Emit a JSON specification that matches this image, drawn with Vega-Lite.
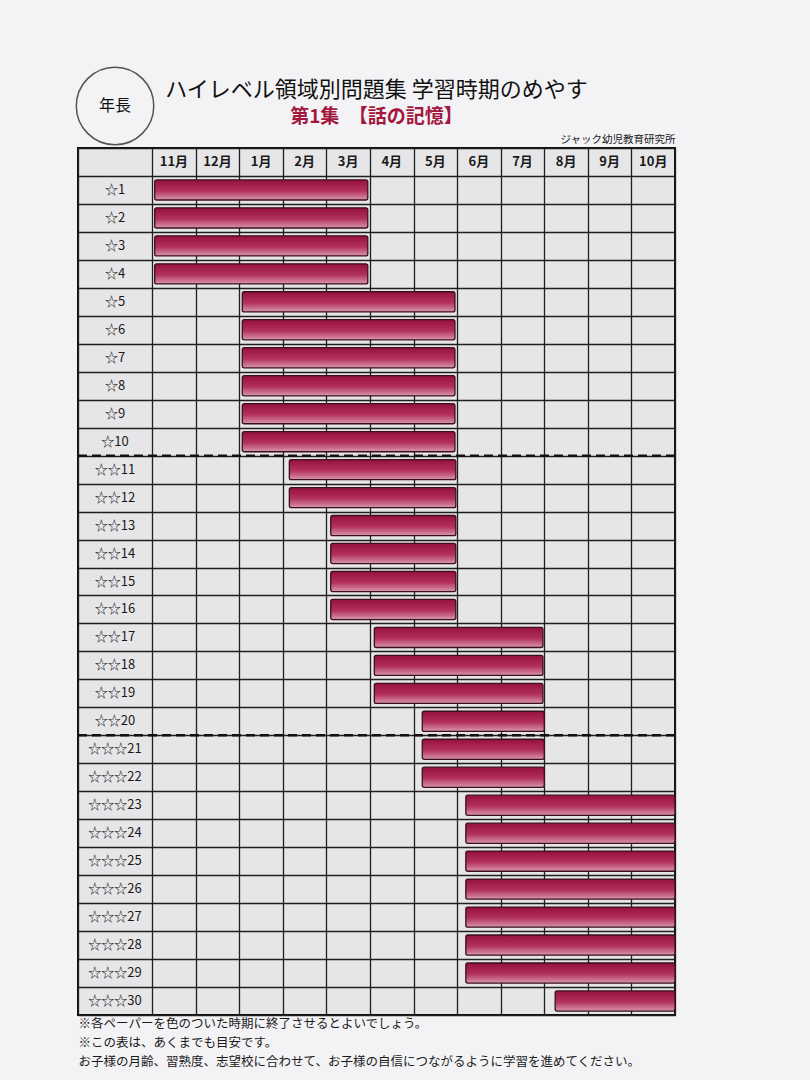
{
  "$schema": "https://vega.github.io/schema/vega-lite/v6.json",
  "autosize": {"type": "none"},
  "width": 597,
  "height": 867,
  "padding": {"left": 78, "top": 148, "right": 135, "bottom": 65},
  "background": "#f3f3f5",
  "config": {
    "font": "Noto Sans CJK JP",
    "view": {"fill": "#e6e6e8", "stroke": "#111111", "strokeWidth": 2},
    "axisY": {"grid": true, "tickBand": "extent", "gridColor": "#1f1f1f", "gridWidth": 1.3, "labels": false, "ticks": false, "domain": false}
  },
  "title": {
    "text": "ハイレベル領域別問題集 学習時期のめやす",
    "subtitle": "第1集　【話の記憶】",
    "anchor": "middle",
    "fontSize": 22,
    "fontWeight": "normal",
    "color": "#111111",
    "subtitleFontSize": 19,
    "subtitleColor": "#a3173f",
    "subtitleFontWeight": "bold",
    "subtitlePadding": 6,
    "offset": -64
  },
  "datasets": {
    "rows": [
      {"label": "☆1", "start": 0.06, "end": 4.95},
      {"label": "☆2", "start": 0.06, "end": 4.95},
      {"label": "☆3", "start": 0.06, "end": 4.95},
      {"label": "☆4", "start": 0.06, "end": 4.95},
      {"label": "☆5", "start": 2.07, "end": 6.95},
      {"label": "☆6", "start": 2.07, "end": 6.95},
      {"label": "☆7", "start": 2.07, "end": 6.95},
      {"label": "☆8", "start": 2.07, "end": 6.95},
      {"label": "☆9", "start": 2.07, "end": 6.95},
      {"label": "☆10", "start": 2.07, "end": 6.95},
      {"label": "☆☆11", "start": 3.15, "end": 6.97},
      {"label": "☆☆12", "start": 3.15, "end": 6.97},
      {"label": "☆☆13", "start": 4.1, "end": 6.97},
      {"label": "☆☆14", "start": 4.1, "end": 6.97},
      {"label": "☆☆15", "start": 4.1, "end": 6.97},
      {"label": "☆☆16", "start": 4.1, "end": 6.97},
      {"label": "☆☆17", "start": 5.1, "end": 8.97},
      {"label": "☆☆18", "start": 5.1, "end": 8.97},
      {"label": "☆☆19", "start": 5.1, "end": 8.97},
      {"label": "☆☆20", "start": 6.2, "end": 9.0},
      {"label": "☆☆☆21", "start": 6.2, "end": 9.0},
      {"label": "☆☆☆22", "start": 6.2, "end": 9.0},
      {"label": "☆☆☆23", "start": 7.2, "end": 12.0},
      {"label": "☆☆☆24", "start": 7.2, "end": 12.0},
      {"label": "☆☆☆25", "start": 7.2, "end": 12.0},
      {"label": "☆☆☆26", "start": 7.2, "end": 12.0},
      {"label": "☆☆☆27", "start": 7.2, "end": 12.0},
      {"label": "☆☆☆28", "start": 7.2, "end": 12.0},
      {"label": "☆☆☆29", "start": 7.2, "end": 12.0},
      {"label": "☆☆☆30", "start": 9.25, "end": 12.0}
    ],
    "months": [
      {"m": 0, "name": "11月"}, {"m": 1, "name": "12月"}, {"m": 2, "name": "1月"},
      {"m": 3, "name": "2月"}, {"m": 4, "name": "3月"}, {"m": 5, "name": "4月"},
      {"m": 6, "name": "5月"}, {"m": 7, "name": "6月"}, {"m": 8, "name": "7月"},
      {"m": 9, "name": "8月"}, {"m": 10, "name": "9月"}, {"m": 11, "name": "10月"}
    ],
    "dividers": [{"label": "☆☆11"}, {"label": "☆☆☆21"}],
    "badge": [{"text": "年長"}]
  },
  "layer": [
    {
      "data": {"name": "rows"},
      "mark": {
        "type": "bar",
        "height": {"band": 0.72},
        "fill": {
          "gradient": "linear", "x1": 0, "y1": 0, "x2": 0, "y2": 1,
          "stops": [
            {"offset": 0, "color": "#96103d"},
            {"offset": 0.55, "color": "#b2315f"},
            {"offset": 1, "color": "#d896ad"}
          ]
        },
        "stroke": "#3b0f1f",
        "strokeWidth": 1.3,
        "cornerRadius": 2
      },
      "encoding": {
        "x": {
          "field": "start", "type": "quantitative",
          "scale": {"domain": [-1.7, 12], "nice": false, "zero": false},
          "axis": {
            "orient": "top",
            "values": [-1.7, 0, 1, 2, 3, 4, 5, 6, 7, 8, 9, 10, 11, 12],
            "grid": true, "gridColor": "#1f1f1f", "gridWidth": 1.3,
            "labels": false, "ticks": false, "domain": false,
            "title": "ジャック幼児教育研究所",
            "titleAnchor": "end", "titleFontSize": 10.5, "titleFontWeight": "normal",
            "titlePadding": 4, "titleColor": "#222222"
          }
        },
        "x2": {"field": "end"},
        "y": {
          "field": "label", "type": "nominal", "title": null,
          "scale": {
            "domain": ["header", "☆1", "☆2", "☆3", "☆4", "☆5", "☆6", "☆7", "☆8", "☆9", "☆10",
              "☆☆11", "☆☆12", "☆☆13", "☆☆14", "☆☆15", "☆☆16", "☆☆17", "☆☆18", "☆☆19", "☆☆20",
              "☆☆☆21", "☆☆☆22", "☆☆☆23", "☆☆☆24", "☆☆☆25", "☆☆☆26", "☆☆☆27", "☆☆☆28", "☆☆☆29", "☆☆☆30"],
            "paddingInner": 0, "paddingOuter": 0
          }
        }
      }
    },
    {
      "data": {"name": "rows"},
      "mark": {"type": "text", "fontSize": 13, "color": "#1a1a1a"},
      "encoding": {
        "x": {
          "datum": -0.85, "type": "quantitative",
          "axis": {
            "orient": "bottom", "labels": false, "ticks": false, "domain": false, "grid": false,
            "title": ["※各ペーパーを色のついた時期に終了させるとよいでしょう。", "※この表は、あくまでも目安です。", "お子様の月齢、習熟度、志望校に合わせて、お子様の自信につながるように学習を進めてください。"],
            "titleAnchor": "start", "titleAlign": "left", "titleFontSize": 12.5,
            "titleFontWeight": "normal", "titleLineHeight": 19, "titlePadding": 2,
            "titleBaseline": "top", "titleColor": "#1a1a1a"
          }
        },
        "y": {"field": "label", "type": "nominal", "title": null},
        "text": {"field": "label"}
      }
    },
    {
      "data": {"name": "months"},
      "mark": {"type": "text", "fontSize": 13, "fontWeight": "bold", "dx": 21.8, "color": "#1a1a1a"},
      "encoding": {
        "x": {"field": "m", "type": "quantitative", "axis": null},
        "y": {"datum": "header"},
        "text": {"field": "name"}
      }
    },
    {
      "data": {"name": "dividers"},
      "mark": {"type": "rule", "strokeDash": [9, 5], "strokeWidth": 2.5, "color": "#111111"},
      "encoding": {
        "y": {"field": "label", "type": "nominal", "bandPosition": 0, "title": null}
      }
    },
    {
      "data": {"name": "badge"},
      "mark": {"type": "point", "shape": "circle", "size": 6000, "filled": false, "stroke": "#111111", "strokeWidth": 1.5, "yOffset": -56},
      "encoding": {
        "x": {"datum": -0.85, "type": "quantitative", "axis": null},
        "y": {"datum": "header"}
      }
    },
    {
      "data": {"name": "badge"},
      "mark": {"type": "text", "fontSize": 16, "color": "#111111", "yOffset": -56},
      "encoding": {
        "x": {"datum": -0.85, "type": "quantitative", "axis": null},
        "y": {"datum": "header"},
        "text": {"field": "text"}
      }
    }
  ],
  "resolve": {"axis": {"x": "independent"}}
}
